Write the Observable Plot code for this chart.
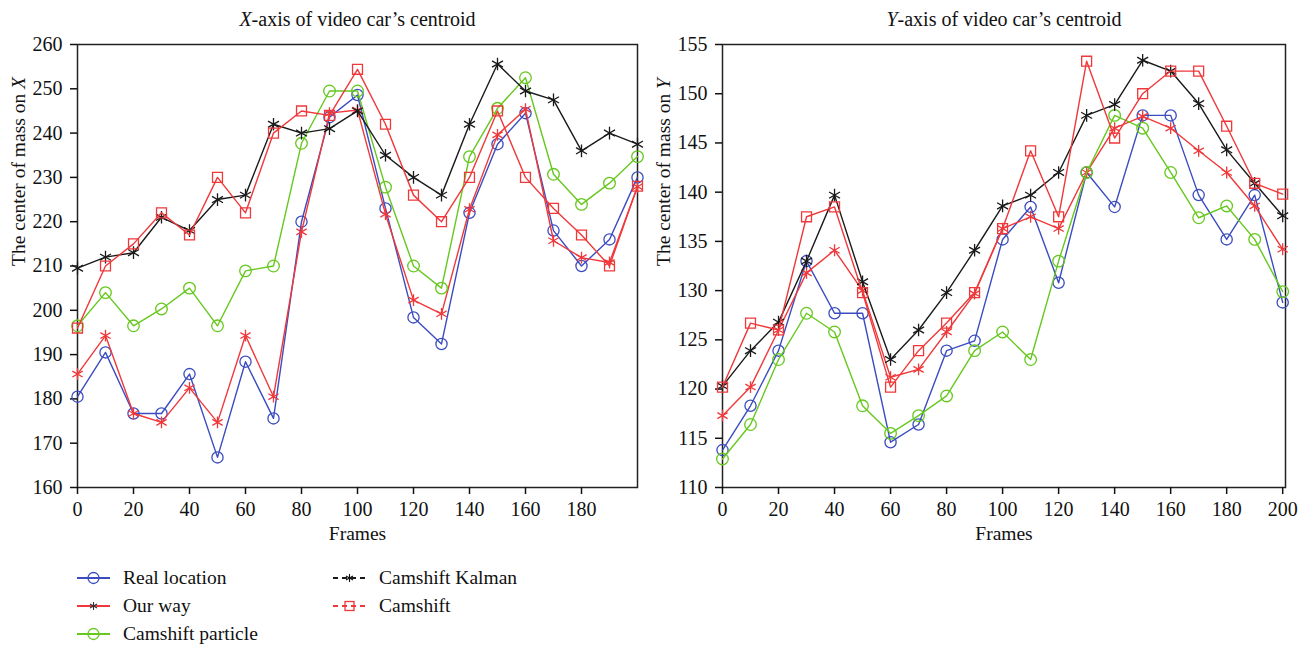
<!DOCTYPE html>
<html>
<head>
<meta charset="utf-8">
<script src="https://cdn.jsdelivr.net/npm/d3@7"></script>
<script src="https://cdn.jsdelivr.net/npm/@observablehq/plot@0.6"></script>
<style>
  body { margin: 0; background: #fff; font-family: "Liberation Serif", "DejaVu Serif", serif; color: #111; }
  #wrap { position: relative; width: 1309px; height: 648px; overflow: hidden; }
  #left { position: absolute; left: 0; top: 0; }
  #right { position: absolute; left: 645px; top: 0; }
  .leg { position: absolute; font-size: 19.5px; line-height: 20px; display: flex; align-items: center; white-space: nowrap; }
  .leg svg { margin-right: 13px; }
  g[aria-label$="tick label"] { font-size: 20px; }
</style>
</head>
<body>
<div id="wrap">
  <div id="left"></div>
  <div id="right"></div>
  <div id="legend"></div>
</div>
<script>
// ---- data ----
const frames = [0,10,20,30,40,50,60,70,80,90,100,110,120,130,140,150,160,170,180,190,200];

const seriesNames = ["Real location","Our way","Camshift particle","Camshift Kalman","Camshift"];
const seriesColors = ["#3a4cc0","#f0383a","#66c81e","#1a1a1a","#f0383a"];

// X-axis of centroid
const xReal     = [180.5,190.5,176.7,176.7,185.6,166.8,188.4,175.6,220,243.6,248.6,223,198.4,192.4,222,237.5,244.5,218,210,216,230];
const xOurWay   = [185.6,194.3,176.7,174.7,182.5,174.7,194.3,180.5,217.7,244.5,245.2,221.7,202.3,199.2,222.8,239.6,245.4,215.7,211.9,210.8,227.9];
const xParticle = [196.5,204,196.5,200.3,205,196.5,208.9,210,237.7,249.5,249.5,227.8,210,205,234.7,245.6,252.5,230.7,223.9,228.7,234.7];
const xKalman   = [209.5,212,213,221,218,225,226,242,240,241,245,235,230,226,242,255.6,249.5,247.5,236,240,237.5];
const xCamshift = [196,210,215,222,217,230,222,240,245,244,254.4,242,226,220,230,245,230,223,217,210,228];

// Y-axis of centroid
const yReal     = [113.8,118.3,123.9,133,127.7,127.7,114.6,116.4,123.9,124.9,135.2,138.5,130.8,142,138.5,147.8,147.8,139.7,135.2,139.7,128.8];
const yOurWay   = [117.3,120.2,126,131.8,134.1,130,121.2,122,125.8,129.7,136.3,137.5,136.3,142,146.5,147.7,146.5,144.2,142,138.6,134.2];
const yParticle = [112.9,116.4,123,127.7,125.8,118.3,115.5,117.3,119.3,123.9,125.8,123,133,142,147.8,146.5,142,137.4,138.6,135.2,129.9];
const yKalman   = [120.3,123.9,126.8,133,139.7,130.9,123,126,129.8,134.1,138.6,139.7,142,147.8,148.9,153.4,152.3,149,144.3,140.9,137.6];
const yCamshift = [120.2,126.7,126,137.5,138.5,129.8,120.2,123.9,126.7,129.8,136.3,144.2,137.5,153.3,145.5,150,152.3,152.3,146.7,140.9,139.8];

const xTicksLeft = [0,20,40,60,80,100,120,140,160,180];
const yTicksLeft = [160,170,180,190,200,210,220,230,240,250,260];
const xTicksRight = [0,20,40,60,80,100,120,140,160,180,200];
const yTicksRight = [110,115,120,125,130,135,140,145,150,155];

// ---- marker styles ----
const symbols = ["circle","asterisk","circle","asterisk","square"];
const radii = [5.6, 5.6, 5.8, 6, 5.6];

function italicize(svg, full, before, ital, after) {
  svg.querySelectorAll("text").forEach(t => {
    if (t.textContent === full) {
      while (t.firstChild) t.removeChild(t.firstChild);
      const ns = "http://www.w3.org/2000/svg";
      if (before) t.appendChild(document.createTextNode(before));
      const ts = document.createElementNS(ns, "tspan");
      ts.setAttribute("font-style", "italic");
      ts.textContent = ital;
      t.appendChild(ts);
      if (after) t.appendChild(document.createTextNode(after));
    }
  });
}

function chart({values, width, marginRight, xDomain, xTicks, yDomain, yTicks, title, ylabel}) {
  const marks = [
    Plot.frame({stroke: "#222", strokeWidth: 1.5}),
    Plot.axisX({ticks: xTicks, tickSize: 7, tickPadding: 7, label: null, strokeWidth: 1.5}),
    Plot.axisY({ticks: yTicks, tickSize: 7, tickPadding: 8, label: null, strokeWidth: 1.5}),
    Plot.text([title], {text: d => d, frameAnchor: "top", lineAnchor: "middle", dy: -25, fontSize: 20}),
    Plot.text([ylabel], {text: d => d, frameAnchor: "left", lineAnchor: "middle", dx: -59, rotate: -90, fontSize: 19.5}),
    Plot.text(["Frames"], {text: d => d, frameAnchor: "bottom", lineAnchor: "middle", dy: 46, fontSize: 19.5})
  ];
  values.forEach((vals, k) => {
    const data = frames.map((f, i) => ({frame: f, v: vals[i]}));
    marks.push(Plot.line(data, {x: "frame", y: "v", stroke: seriesColors[k], strokeWidth: 1.4}));
    marks.push(Plot.dot(data, {x: "frame", y: "v", symbol: symbols[k], r: radii[k], stroke: seriesColors[k], strokeWidth: 1.3, fill: "none"}));
  });
  return Plot.plot({
    width, height: 560,
    marginLeft: 77, marginRight, marginTop: 44, marginBottom: 73,
    style: {fontFamily: "'Liberation Serif', 'DejaVu Serif', serif", fontSize: "20px", color: "#111", background: "transparent"},
    x: {domain: xDomain},
    y: {domain: yDomain},
    marks
  });
}

const left = chart({
  values: [xReal, xOurWay, xParticle, xKalman, xCamshift],
  width: 654, marginRight: 17,
  xDomain: [0, 200], xTicks: xTicksLeft,
  yDomain: [160, 260], yTicks: yTicksLeft,
  title: "X-axis of video car\u2019s centroid",
  ylabel: "The center of mass on X"
});
italicize(left, "X-axis of video car\u2019s centroid", "", "X", "-axis of video car\u2019s centroid");
italicize(left, "The center of mass on X", "The center of mass on ", "X", "");
document.getElementById("left").appendChild(left);

const right = chart({
  values: [yReal, yOurWay, yParticle, yKalman, yCamshift],
  width: 664, marginRight: 24,
  xDomain: [0, 201], xTicks: xTicksRight,
  yDomain: [110, 155], yTicks: yTicksRight,
  title: "Y-axis of video car\u2019s centroid",
  ylabel: "The center of mass on Y"
});
italicize(right, "Y-axis of video car\u2019s centroid", "", "Y", "-axis of video car\u2019s centroid");
italicize(right, "The center of mass on Y", "The center of mass on ", "Y", "");
document.getElementById("right").appendChild(right);

// ---- legend ----
const legendItems = [
  {name: seriesNames[0], color: seriesColors[0], sym: "circle", dash: false, left: 77, top: 578},
  {name: seriesNames[1], color: seriesColors[1], sym: "star", dash: false, left: 77, top: 606},
  {name: seriesNames[2], color: seriesColors[2], sym: "circle", dash: false, left: 77, top: 634},
  {name: seriesNames[3], color: seriesColors[3], sym: "star", dash: true, left: 333, top: 578},
  {name: seriesNames[4], color: seriesColors[4], sym: "square", dash: true, left: 333, top: 606}
];
const legend = document.getElementById("legend");
legendItems.forEach((it, i) => {
  const div = document.createElement("div");
  div.className = "leg";
  div.style.left = it.left + "px";
  div.style.top = (it.top - 10) + "px";
  const w = 33;
  const c0 = w / 2;
  let marker = "";
  if (it.sym === "circle") marker = `<circle cx="${c0}" cy="10" r="5.5" fill="none" stroke="${it.color}" stroke-width="1.3"/>`;
  if (it.sym === "square") marker = `<rect x="${c0 - 4.5}" y="5.5" width="9" height="9" fill="none" stroke="${it.color}" stroke-width="1.3"/>`;
  if (it.sym === "star") {
    const c = i === 1 ? "#333" : "#111";
    marker = `<g stroke="${c}" stroke-width="1.1"><line x1="${c0}" y1="6" x2="${c0}" y2="14"/><line x1="${c0 - 3.5}" y1="8" x2="${c0 + 3.5}" y2="12"/><line x1="${c0 - 3.5}" y1="12" x2="${c0 + 3.5}" y2="8"/></g>`;
  }
  const dash = it.dash ? `stroke-dasharray="5,4"` : "";
  div.innerHTML = `<svg width="${w}" height="20"><line x1="0" y1="10" x2="${w}" y2="10" stroke="${it.color}" stroke-width="2" ${dash}/>${marker}</svg><span>${it.name}</span>`;
  legend.appendChild(div);
});
</script>
</body>
</html>
